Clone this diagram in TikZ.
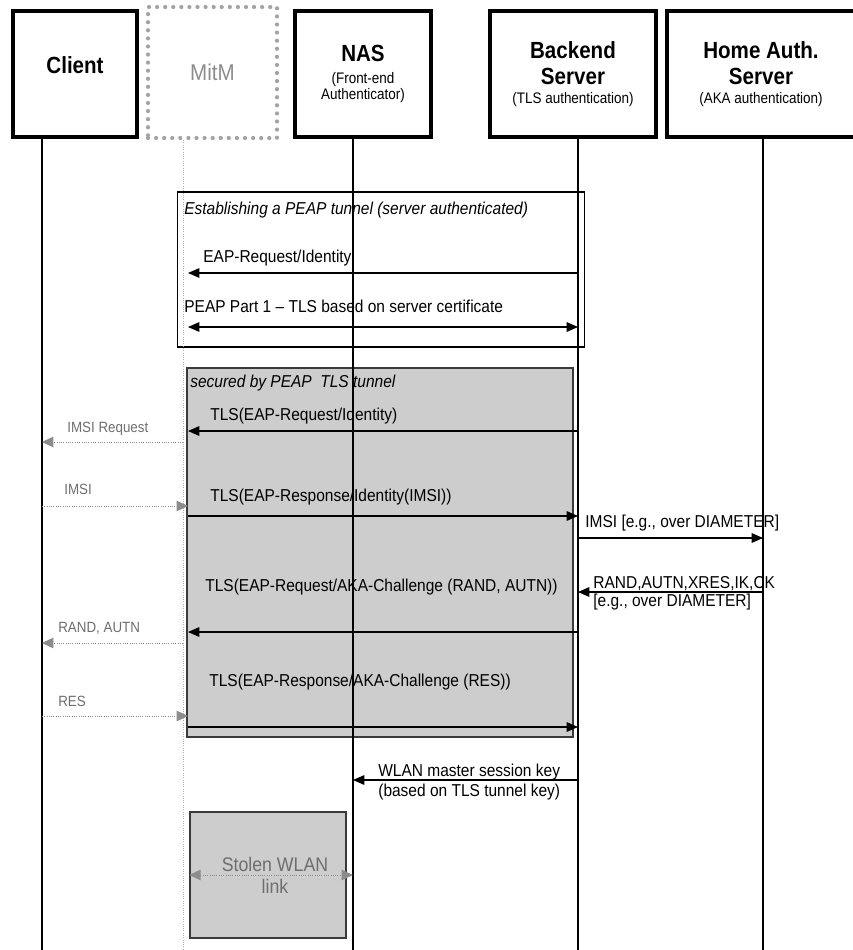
\documentclass[tikz,border=0pt]{standalone}
\usepackage{fontspec}
\setmainfont{Liberation Sans}[FakeStretch=0.9]
\newfontfamily\hdrfam{Liberation Sans}[FakeStretch=0.88]
\usepackage{xcolor}
\usepackage{tikz}
\usetikzlibrary{arrows.meta}
\definecolor{tunnel}{HTML}{CDCDCD}
\definecolor{frame}{HTML}{3A3A3A}
\definecolor{spy}{HTML}{8C8C8C}
\definecolor{spytext}{HTML}{6E6E6E}
\newcommand\hdrfont{\hdrfam\fontsize{13.3}{14.7}\selectfont\bfseries}
\newcommand\subfont{\fontsize{8.7}{9.6}\selectfont\mdseries}
\newcommand\lblfont{\fontsize{9.8}{10.2}\selectfont}
\newcommand\spyfont{\fontsize{8.45}{9}\selectfont}
\tikzset{
  actor/.style={draw,line width=2.3pt,fill=white,inner sep=0pt,align=center,font=\hdrfont,minimum height=2.52cm},
  attacker/.style={draw=spy!80,line width=2.4pt,dash pattern=on 0pt off 4.6pt,line cap=round,inner sep=0pt,minimum width=2.58cm,minimum height=2.62cm,text=spy,font=\fontsize{13}{14}\selectfont},
  life/.style={line width=0.6pt},
  spylife/.style={draw=spy!70,line width=0.5pt,dash pattern=on 0.5pt off 0.8pt},
  frame/.style={draw,line width=0.6pt,inner sep=0pt},
  tunnelbox/.style={draw=frame,fill=tunnel,line width=0.9pt,inner sep=0pt},
  msg/.style={-{Triangle[length=6.5pt,width=5.5pt]},line width=0.6pt},
  msgboth/.style={{Triangle[length=6.5pt,width=5.5pt]}-{Triangle[length=6.5pt,width=5.5pt]},line width=0.6pt},
  spymsg/.style={-{Triangle[length=6.5pt,width=6pt]},draw=spy,line width=0.5pt,dash pattern=on 0.5pt off 0.8pt},
  spyboth/.style={{Triangle[length=6.5pt,width=6pt]}-{Triangle[length=6.5pt,width=6pt]},draw=spy,line width=0.5pt,dash pattern=on 0.5pt off 0.8pt},
  lbl/.style={anchor=base west,inner sep=0pt,font=\lblfont},
  spylbl/.style={anchor=base west,inner sep=0pt,font=\spyfont,text=spytext},
  note/.style={anchor=west,inner sep=0pt,align=left,font=\lblfont},
}

\begin{document}
\begin{tikzpicture}[x=0.02cm,y=-0.02cm]
  \useasboundingbox (0,0) rectangle (852,950);
  % boxes behind the lifelines
  \node[frame,minimum width=8.16cm,minimum height=3.1cm] (peap) at (381,269.5) {};
  \node[tunnelbox,minimum width=7.72cm,minimum height=7.38cm] (tls) at (380,552.5) {};
  \node[tunnelbox,minimum width=3.12cm,minimum height=2.52cm] (stolen) at (268,875) {};

  % actors
  \node[actor,minimum width=2.48cm,text depth=0.36cm] (client) at (75,74) {Client};
  \node[attacker] (mitm) at (212.5,72.5) {MitM};
  \node[actor,minimum width=2.72cm] (nas) at (363,74) {NAS\\[-2.2pt]{\subfont (Front-end}\\[-5.1pt]{\subfont Authenticator)}};
  \node[actor,minimum width=3.32cm] (backend) at (573,74) {Backend\\Server\\[-3.9pt]{\subfont (TLS authentication)}};
  \node[actor,minimum width=3.76cm] (home) at (761,74) {Home Auth.\\Server\\[-3.9pt]{\subfont (AKA authentication)}};

  \coordinate (cl) at (client.south -| 42,0);
  \coordinate (mi) at (mitm.south -| 183,0);
  \coordinate (na) at (nas.south -| 353,0);
  \coordinate (bk) at (backend.south -| 578,0);
  \coordinate (ha) at (home.south -| 763,0);
  \coordinate (mt) at (188,140);

  % lifelines
  \draw[life] (cl) -- (cl |- 0,950);
  \draw[spylife] (mi) -- (mi |- 0,950);
  \draw[life] (na) -- (na |- 0,950);
  \draw[life] (bk) -- (bk |- 0,950);
  \draw[life] (ha) -- (ha |- 0,950);

  % PEAP tunnel set-up
  \node[lbl] (estab) at (184,214) {\itshape Establishing a PEAP tunnel (server authenticated)};
  \node[lbl] (eapreq) at (203,262) {EAP-Request/Identity};
  \draw[msg] (bk |- 0,273) -- (mt |- 0,273);
  \node[lbl] (part1) at (184,312) {PEAP Part 1 -- TLS based on server certificate};
  \draw[msgboth] (mt |- 0,327) -- (bk |- 0,327);

  % inside the TLS tunnel
  \node[lbl] (secured) at (190,387) {\itshape secured by PEAP~ TLS tunnel};
  \node[lbl] (tlsreq) at (210,420) {TLS(EAP-Request/Identity)};
  \draw[msg] (bk |- 0,431) -- (mt |- 0,431);
  \node[spylbl] (imsireq) at (67,432) {IMSI Request};
  \draw[spymsg] (mi |- 0,442) -- (cl |- 0,442);
  \node[spylbl] (imsi) at (64,494) {IMSI};
  \draw[spymsg] (cl |- 0,506) -- (mt |- 0,506);
  \node[lbl] (tlsresp) at (210,501) {TLS(EAP-Response/Identity(IMSI))};
  \draw[msg] (mt |- 0,516) -- (bk |- 0,516);
  \node[lbl] (diam) at (585,527) {IMSI [e.g., over DIAMETER]};
  \draw[msg] (bk |- 0,538) -- (ha |- 0,538);
  \node[note,font=\fontsize{9.8}{10.2}\selectfont] (vector) at (593,593) {RAND,AUTN,XRES,IK,CK\\{}[e.g., over DIAMETER]};
  \draw[msg] (ha |- 0,592) -- (bk |- 0,592);
  \node[lbl] (akareq) at (205,591) {TLS(EAP-Request/AKA-Challenge (RAND, AUTN))};
  \draw[msg] (bk |- 0,632) -- (mt |- 0,632);
  \node[spylbl] (randautn) at (58,632) {RAND, AUTN};
  \draw[spymsg] (mi |- 0,643) -- (cl |- 0,643);
  \node[lbl] (akaresp) at (209,686) {TLS(EAP-Response/AKA-Challenge (RES))};
  \node[spylbl] (res) at (58,706) {RES};
  \draw[spymsg] (cl |- 0,716) -- (mt |- 0,716);
  \draw[msg] (mt |- 0,727) -- (bk |- 0,727);

  % key to the NAS, link taken over
  \node[note,font=\fontsize{9.8}{11.3}\selectfont] (msk) at (378,782) {WLAN master session key\\(based on TLS tunnel key)};
  \draw[msg] (bk |- 0,780) -- (na |- 0,780);
  \node[align=center,inner sep=0pt,text=spytext,font=\fontsize{11.2}{12.5}\selectfont] (stl) at (275,875) {Stolen WLAN\\link};
  \draw[spyboth] (stolen.west) -- (na |- stolen.west);
\end{tikzpicture}
\end{document}
